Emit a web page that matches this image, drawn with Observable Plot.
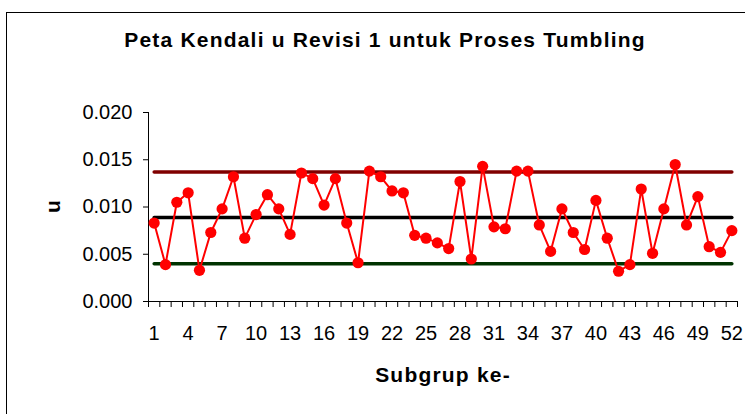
<!DOCTYPE html>
<html>
<head>
<meta charset="utf-8">
<script src="https://cdn.jsdelivr.net/npm/d3@7"></script>
<script src="https://cdn.jsdelivr.net/npm/@observablehq/plot@0.6"></script>
<style>
  html, body { margin: 0; padding: 0; background: #fff; overflow: hidden; }
  #wrap { position: relative; width: 745px; height: 414px; overflow: hidden; background: #fff;
          font-family: 'Liberation Sans', Arial, sans-serif; color: #000; }
  #border { position: absolute; left: 6px; top: 12px; width: 900px; height: 900px; border: 1px solid #000; }
  #chart { position: absolute; left: 0; top: 0; }
  .lbl { position: absolute; font-weight: bold; font-size: 21px; line-height: 21px; letter-spacing: 1.2px;
         text-align: center; white-space: nowrap; }
  #title { left: 7px; width: 756px; top: 29px; }
  #xlabel { left: 293px; width: 300px; top: 364px; }
  #ylabel { left: 32px; width: 40px; top: 196px; transform: rotate(-90deg); letter-spacing: 0; }
</style>
</head>
<body>
<div id="wrap">
  <div id="border"></div>
  <div id="chart"></div>
  <div id="title" class="lbl">Peta Kendali u Revisi 1 untuk Proses Tumbling</div>
  <div id="xlabel" class="lbl">Subgrup ke-</div>
  <div id="ylabel" class="lbl">u</div>
</div>
<script>
const subgroups = [1,2,3,4,5,6,7,8,9,10,11,12,13,14,15,16,17,18,19,20,21,22,23,24,25,26,
  27,28,29,30,31,32,33,34,35,36,37,38,39,40,41,42,43,44,45,46,47,48,49,50,51,52];
const uValues = [0.0083,0.0039,0.0105,0.0115,0.0033,0.0073,0.0098,0.0132,0.0067,0.0092,
  0.0113,0.0098,0.0071,0.0136,0.0130,0.0102,0.0130,0.0083,0.0041,0.0138,0.0132,0.0117,
  0.0115,0.0070,0.0067,0.0062,0.0056,0.0127,0.0045,0.0143,0.0079,0.0077,0.0138,0.0138,
  0.0081,0.0053,0.0098,0.0073,0.0055,0.0107,0.0067,0.0032,0.0039,0.0119,0.0051,0.0098,
  0.0145,0.0081,0.0111,0.0058,0.0052,0.0075];
const UCL = 0.0137;
const CL = 0.0089;
const LCL = 0.0040;
const yTicks = [0, 0.005, 0.010, 0.015, 0.020];
const xTickLabels = [1,4,7,10,13,16,19,22,25,28,31,34,37,40,43,46,49,52];
const xDomain = [0.5, 52.5];
const yDomain = [0, 0.020];

const pts = subgroups.map((s, i) => ({s, u: uValues[i]}));
const limits = [
  {name: "UCL", value: UCL, color: "#800000"},
  {name: "CL", value: CL, color: "#000000"},
  {name: "LCL", value: LCL, color: "#003300"}
];
const limitRows = limits.flatMap(l => subgroups.map(s => ({s, v: l.value, name: l.name})));
const xBoundaries = d3.range(xDomain[0], xDomain[1] + 0.5, 1);

const chart = Plot.plot({
  width: 745,
  height: 414,
  marginLeft: 148,
  marginRight: 8,
  marginTop: 112,
  marginBottom: 113,
  x: {domain: xDomain},
  y: {domain: yDomain},
  style: {fontFamily: "'Liberation Sans', Arial, sans-serif", fontSize: "20px", background: "transparent", color: "#000"},
  marks: [
    Plot.axisY({ticks: yTicks, tickSize: 5, tickPadding: 11, tickFormat: d3.format(".3f"), label: null}),
    Plot.axisX({ticks: xBoundaries, tickSize: 6, tickFormat: () => "", label: null}),
    Plot.axisX({ticks: xTickLabels, tickSize: 0, tickPadding: 24, label: null}),
    Plot.ruleX([xDomain[0]], {stroke: "#000"}),
    Plot.ruleY([yDomain[0]], {stroke: "#000"}),
    ...limits.map(l => Plot.line(limitRows.filter(d => d.name === l.name), {x: "s", y: "v", stroke: l.color, strokeWidth: 3.5})),
    Plot.line(pts, {x: "s", y: "u", stroke: "#ff0000", strokeWidth: 2}),
    Plot.dot(pts, {x: "s", y: "u", r: 5.6, fill: "#ff0000", stroke: "none"})
  ]
});
document.getElementById("chart").appendChild(chart);
</script>
</body>
</html>
